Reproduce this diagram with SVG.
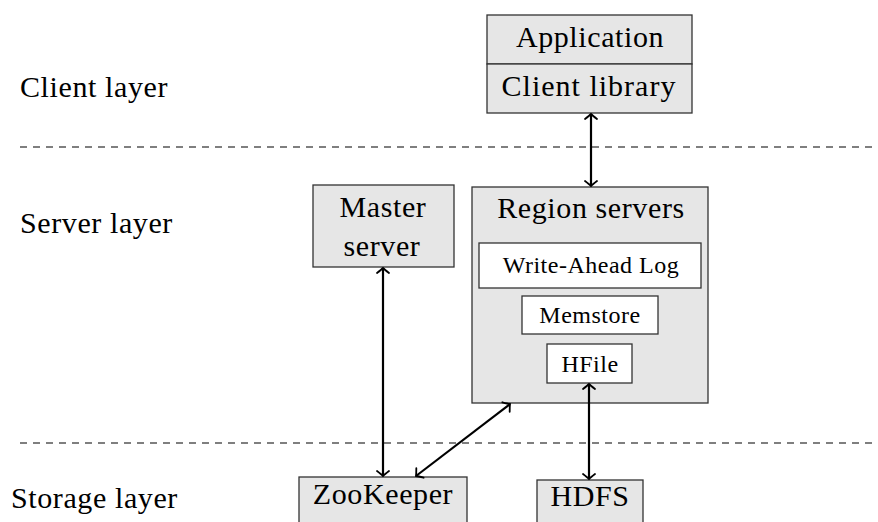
<svg xmlns="http://www.w3.org/2000/svg" width="878" height="522" viewBox="0 0 878 522">
<style>
.box{fill:#e6e6e6;stroke:#333;stroke-width:1.3}
.in{fill:#fff;stroke:#333;stroke-width:1.3}
.dash{stroke:#555;stroke-width:1.3;stroke-dasharray:7 6;fill:none}
.conn{stroke:#000;stroke-width:2.2;fill:none;marker-start:url(#arr);marker-end:url(#arr)}
</style>
<defs>
<marker id="arr" markerUnits="userSpaceOnUse" viewBox="-8 -8 10 16" refX="0" refY="0" markerWidth="10" markerHeight="16" orient="auto-start-reverse">
<path d="M-5,-6 Q-1.5,-1.5 0,0 Q-1.5,1.5 -5,6" fill="none" stroke="#000" stroke-width="1.8" stroke-linecap="round"/>
</marker>
</defs>
<g id="layers">
<line class="dash" x1="20" y1="147" x2="872" y2="147"/>
<line class="dash" x1="20" y1="443" x2="872" y2="443"/>
<text x="20" y="97" font-size="30" font-family="Liberation Serif" letter-spacing="0.6">Client layer</text>
<text x="20" y="233" font-size="30" font-family="Liberation Serif" letter-spacing="0.6">Server layer</text>
<text x="11" y="508" font-size="30" font-family="Liberation Serif" letter-spacing="0.6">Storage layer</text>
</g>
<g id="application">
<rect class="box" x="487" y="15" width="205" height="49"/>
<text x="590" y="47" font-size="30" font-family="Liberation Serif" text-anchor="middle" letter-spacing="0.6">Application</text>
</g>
<g id="client-library">
<rect class="box" x="487" y="64" width="205" height="49"/>
<text x="589" y="96" font-size="30" font-family="Liberation Serif" text-anchor="middle" letter-spacing="1">Client library</text>
</g>
<g id="master-server">
<rect class="box" x="313" y="185" width="141" height="82"/>
<text x="383" y="217" font-size="30" font-family="Liberation Serif" text-anchor="middle" letter-spacing="0.6">Master</text>
<text x="382" y="256" font-size="30" font-family="Liberation Serif" text-anchor="middle" letter-spacing="0.6">server</text>
</g>
<g id="region-servers">
<rect class="box" x="472" y="187" width="236" height="216"/>
<text x="591" y="218" font-size="30" font-family="Liberation Serif" text-anchor="middle" letter-spacing="0.6">Region servers</text>
</g>
<g id="wal">
<rect class="in" x="479" y="243" width="222" height="45"/>
<text x="591" y="273" font-size="24" font-family="Liberation Serif" text-anchor="middle" letter-spacing="0.5">Write-Ahead Log</text>
</g>
<g id="memstore">
<rect class="in" x="522" y="296" width="136" height="38"/>
<text x="590" y="323" font-size="24" font-family="Liberation Serif" text-anchor="middle" letter-spacing="0.5">Memstore</text>
</g>
<g id="hfile">
<rect class="in" x="547" y="344" width="85" height="39"/>
<text x="590" y="372" font-size="24" font-family="Liberation Serif" text-anchor="middle" letter-spacing="0.5">HFile</text>
</g>
<g id="zookeeper">
<rect class="box" x="299" y="477" width="168" height="60"/>
<text x="383" y="504" font-size="30" font-family="Liberation Serif" text-anchor="middle" letter-spacing="0.6">ZooKeeper</text>
</g>
<g id="hdfs">
<rect class="box" x="537" y="480" width="106" height="60"/>
<text x="590" y="506" font-size="30" font-family="Liberation Serif" text-anchor="middle" letter-spacing="0.6">HDFS</text>
</g>
<g id="connectors">
<line class="conn" x1="591" y1="114" x2="591" y2="186"/>
<line class="conn" x1="383" y1="268" x2="383" y2="476"/>
<line class="conn" x1="589" y1="384" x2="589" y2="479"/>
<line class="conn" x1="510" y1="404" x2="416" y2="476"/>
</g>
</svg>
